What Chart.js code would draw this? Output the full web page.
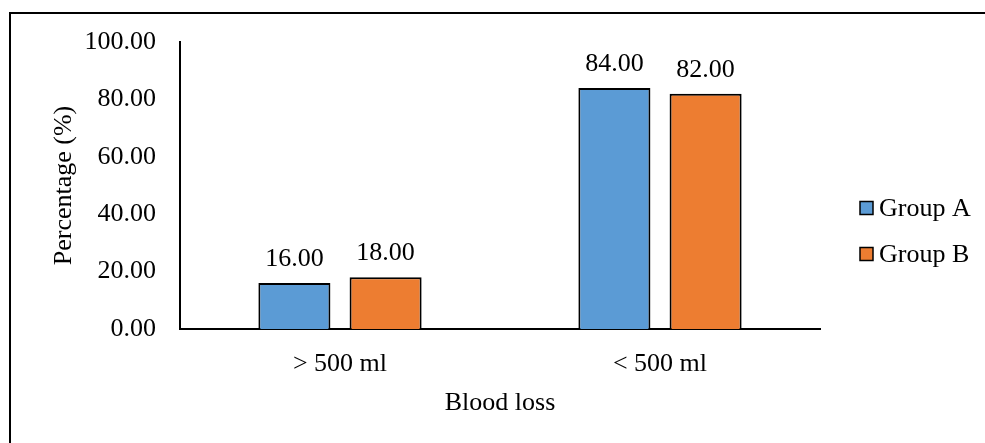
<!DOCTYPE html>
<html>
<head>
<meta charset="utf-8">
<script src="https://cdn.jsdelivr.net/npm/chart.js@4"></script>
<style>
    html, body { margin: 0; padding: 0; background: #fff; }
    #wrap { position: relative; width: 985px; height: 443px; overflow: hidden; }
    #frame { position: absolute; left: 9px; top: 12px; width: 1000px; height: 500px;
             border-left: 2px solid #000; border-top: 2px solid #000; }
    canvas { position: absolute; left: 0; top: 0; }
</style>
</head>
<body>
<div id="wrap">
    <div id="frame"></div>
    <canvas id="chart" width="985" height="443"></canvas>
</div>
<script>
// Chart data
const categories = ['> 500 ml', '< 500 ml'];
const groupA = [16, 84];
const groupB = [18, 82];
const seriesNames = ['Group A', 'Group B'];
const yTicks = [0, 20, 40, 60, 80, 100];

const FONT = 'Liberation Serif, Times New Roman, serif';

// Value labels above each bar
const valueLabels = {
    id: 'valueLabels',
    afterDatasetsDraw(chart) {
        const ctx = chart.ctx;
        ctx.save();
        ctx.font = '26px ' + FONT;
        ctx.fillStyle = '#000';
        ctx.textAlign = 'center';
        ctx.textBaseline = 'alphabetic';
        chart.data.datasets.forEach((ds, i) => {
            chart.getDatasetMeta(i).data.forEach((bar, j) => {
                ctx.fillText(ds.data[j].toFixed(2), bar.x, bar.y - 17);
            });
        });
        ctx.restore();
    }
};

// Legend on the right, drawn from the datasets
const sideLegend = {
    id: 'sideLegend',
    afterDraw(chart) {
        const ctx = chart.ctx;
        ctx.save();
        ctx.font = '26px ' + FONT;
        ctx.textBaseline = 'middle';
        ctx.textAlign = 'left';
        chart.data.datasets.forEach((ds, i) => {
            const y = 208 + i * 46;
            ctx.fillStyle = ds.backgroundColor;
            ctx.fillRect(860, y - 6.5, 13, 13);
            ctx.strokeStyle = '#000';
            ctx.lineWidth = 1.5;
            ctx.strokeRect(860, y - 6.5, 13, 13);
            ctx.fillStyle = '#000';
            ctx.fillText(ds.label, 879, y + 1);
        });
        ctx.restore();
    }
};

new Chart(document.getElementById('chart'), {
    type: 'bar',
    data: {
        labels: categories,
        datasets: [{
            label: seriesNames[0],
            data: groupA,
            backgroundColor: '#5B9BD5',
            borderColor: '#000',
            borderWidth: 2,
            categoryPercentage: 0.57,
            barPercentage: 0.79
        }, {
            label: seriesNames[1],
            data: groupB,
            backgroundColor: '#ED7D31',
            borderColor: '#000',
            borderWidth: 2,
            categoryPercentage: 0.57,
            barPercentage: 0.79
        }]
    },
    options: {
        responsive: false,
        animation: false,
        layout: { padding: { left: 0, right: 165, top: 42, bottom: 0 } },
        plugins: {
            legend: { display: false },
            tooltip: { enabled: false }
        },
        scales: {
            x: {
                grid: { display: false, drawTicks: false },
                border: { display: true, color: '#000', width: 2 },
                ticks: { color: '#000', font: { family: FONT, size: 26 }, padding: 20 },
                title: {
                    display: true, text: 'Blood loss', color: '#000',
                    font: { family: FONT, size: 26 }, padding: { top: 0, bottom: 24 }
                },
                afterFit(scale) { scale.height = 114; }
            },
            y: {
                min: 0, max: 100,
                afterBuildTicks(scale) { scale.ticks = yTicks.map(v => ({ value: v })); },
                grid: { display: false, drawTicks: false },
                border: { display: true, color: '#000', width: 2 },
                ticks: {
                    color: '#000', font: { family: FONT, size: 26 }, padding: 24,
                    callback: v => Number(v).toFixed(2)
                },
                title: {
                    display: true, text: 'Percentage (%)', color: '#000',
                    font: { family: FONT, size: 26 }, padding: { top: 49, bottom: 0 }
                },
                afterFit(scale) { scale.width = 180; }
            }
        }
    },
    plugins: [valueLabels, sideLegend]
});
</script>
</body>
</html>
